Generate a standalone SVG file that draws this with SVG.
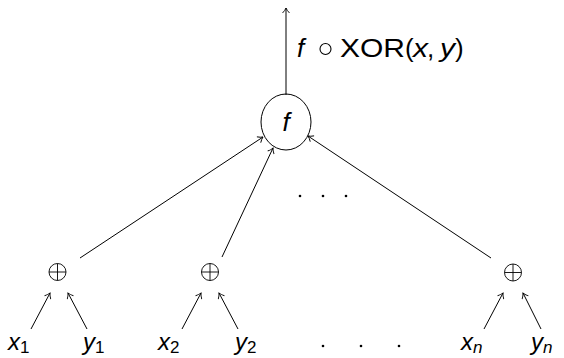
<svg xmlns="http://www.w3.org/2000/svg" width="564" height="358" viewBox="0 0 564 358">
<defs>
<marker id="arr" markerWidth="10" markerHeight="10" refX="7" refY="5" orient="auto" markerUnits="userSpaceOnUse">
<path d="M2,1.5 Q4.5,4 7,5 Q4.5,6 2,8.5" fill="none" stroke="#000" stroke-width="0.9"/>
</marker>
</defs>
<style>
.t{font-family:"Liberation Sans","DejaVu Sans",sans-serif;font-size:24px;fill:#000}
.L{font-size:26px}
.i{font-style:italic}
.s{font-size:17px;font-style:normal}
.si{font-size:17px;font-style:italic}
.e{fill:none;stroke:#000;stroke-width:1;marker-end:url(#arr)}
.op{fill:none;stroke:#000;stroke-width:0.9}
</style>
<g id="connectors">
<line class="e" x1="286" y1="95" x2="286" y2="8"/>
<line class="e" x1="80" y1="258" x2="263" y2="137"/>
<line class="e" x1="222" y1="257" x2="273" y2="148"/>
<line class="e" x1="491" y1="258" x2="308" y2="136"/>
<line class="e" x1="31" y1="329" x2="50" y2="293"/>
<line class="e" x1="87" y1="329" x2="68" y2="293"/>
<line class="e" x1="182" y1="329" x2="201" y2="293"/>
<line class="e" x1="238" y1="329" x2="219" y2="293"/>
<line class="e" x1="484" y1="329" x2="503" y2="293"/>
<line class="e" x1="541" y1="329" x2="523" y2="293"/>
</g>
<g id="label">
<text class="t L i" x="297" y="57">f</text>
<circle cx="325.5" cy="49" r="5.5" fill="none" stroke="#000" stroke-width="1.1"/>
<text class="t L" x="340" y="57" textLength="65" lengthAdjust="spacingAndGlyphs">XOR</text>
<text class="t L" x="405" y="57">(</text>
<text class="t L i" x="413" y="57" textLength="15" lengthAdjust="spacingAndGlyphs">x</text>
<text class="t L" x="427" y="57">,</text>
<text class="t L i" x="440" y="57" textLength="15" lengthAdjust="spacingAndGlyphs">y</text>
<text class="t L" x="455" y="57">)</text>
</g>
<g id="f">
<ellipse cx="286" cy="122" rx="25" ry="28" fill="none" stroke="#000" stroke-width="1"/>
<text class="t L i" x="286" y="131" text-anchor="middle">f</text>
</g>
<g id="xor1">
<circle class="op" cx="57.5" cy="272" r="8.5"/><path class="op" d="M49,272H66M57.5,263.5V280.5"/>
</g>
<g id="xor2">
<circle class="op" cx="210" cy="272" r="8.5"/><path class="op" d="M201.5,272H218.5M210,263.5V280.5"/>
</g>
<g id="xorn">
<circle class="op" cx="513" cy="272.5" r="8.5"/><path class="op" d="M504.5,272.5H521.5M513,264V281"/>
</g>
<g id="dots">
<circle cx="300" cy="196" r="1.3"/><circle cx="323" cy="196" r="1.3"/><circle cx="346" cy="196" r="1.3"/>
<circle cx="323" cy="346" r="1.3"/><circle cx="361" cy="346" r="1.3"/><circle cx="399" cy="346" r="1.3"/>
</g>
<g id="x1"><text class="t i" x="8" y="350">x<tspan class="s" dy="3">1</tspan></text></g>
<g id="y1"><text class="t i" x="83" y="350">y<tspan class="s" dy="3">1</tspan></text></g>
<g id="x2"><text class="t i" x="158" y="350">x<tspan class="s" dy="3">2</tspan></text></g>
<g id="y2"><text class="t i" x="235" y="350">y<tspan class="s" dy="3">2</tspan></text></g>
<g id="xn"><text class="t i" x="461" y="350">x<tspan class="si" dy="3">n</tspan></text></g>
<g id="yn"><text class="t i" x="531" y="350">y<tspan class="si" dy="3">n</tspan></text></g>
</svg>
